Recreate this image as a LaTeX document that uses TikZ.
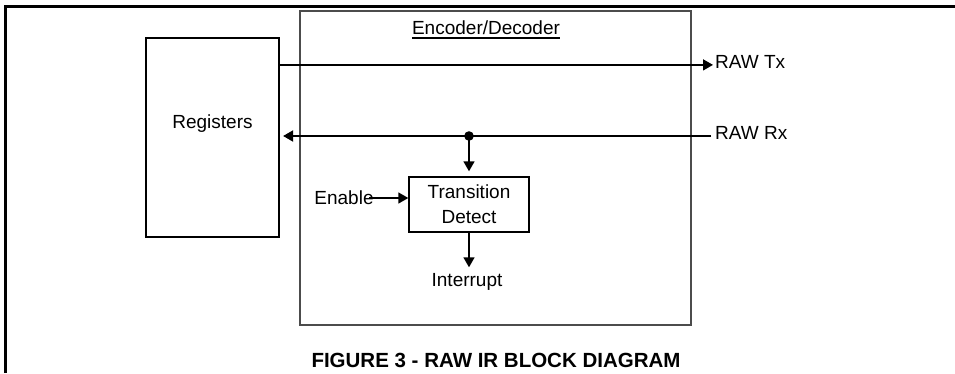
\documentclass[tikz,border=0pt]{standalone}
\usepackage{fontspec}
\setmainfont{Liberation Sans}
\usetikzlibrary{arrows.meta,calc}
\tikzstyle{line} = [draw, line width=1.6pt, -{Triangle[length=10pt,width=11pt]}]
\tikzstyle{block} = [draw, rectangle, line width=1.4pt, text centered, align=center]
\tikzstyle{tag} = [inner sep=0pt]

\begin{document}
\begin{tikzpicture}[x=1pt, y=-1pt, font=\fontsize{19}{25}\selectfont]
        \useasboundingbox (0,0) rectangle (955,373);
        % page frame
        \draw[line width=2.6pt] (5.5,373) -- (5.5,6.5) -- (955,6.5);
        \node[block, draw=black!70, minimum width=391pt, minimum height=314pt] (codec) at (495.5,168) {};
        \node[tag, anchor=base] (codectitle) at (486,34) {Encoder/Decoder};
        \draw[line width=1.8pt] ($(codectitle.base west)+(0,4)$) -- ($(codectitle.base east)+(0,4)$);
        \node[block, line width=2.2pt, minimum width=133pt, minimum height=199pt, label={[yshift=14pt]center:Registers}] (reg) at (212.5,137.5) {};
        \node[block, minimum width=120pt, minimum height=55pt] (trans) at (469,204.5) {Transition\\Detect};
        \node[tag, anchor=west] (rawtx) at (715,62) {RAW Tx};
        \node[tag, anchor=west] (rawrx) at (715,133) {RAW Rx};
        \node[tag] (enable) at (344,198) {Enable};
        \node[tag] (intr) at (467,282) {Interrupt};
        \node[font=\fontsize{20.5}{24}\selectfont\bfseries] (caption) at (496,360) {FIGURE 3 - RAW IR BLOCK DIAGRAM};
        \coordinate (txout) at ($(reg.north east)+(0,28)$);
        \coordinate (rxjoin) at (469,136);
        \path[line] (txout) -- ($(rawtx.west |- txout)+(-2,0)$);
        \path[line, line width=1.9pt] ($(rawrx.west |- rxjoin)+(-4,0)$) -- ($(reg.east |- rxjoin)+(3,0)$);
        \fill (rxjoin) circle (4.8pt);
        \path[line] (rxjoin) -- ($(trans.north)+(0,-5)$);
        \path[line] ($(enable.east)+(-5,0)$) -- (enable.east -| trans.west);
        \path[line] (trans.south) -- ($(trans.south |- intr.north)+(0,-6)$);
    \end{tikzpicture}
\end{document}
